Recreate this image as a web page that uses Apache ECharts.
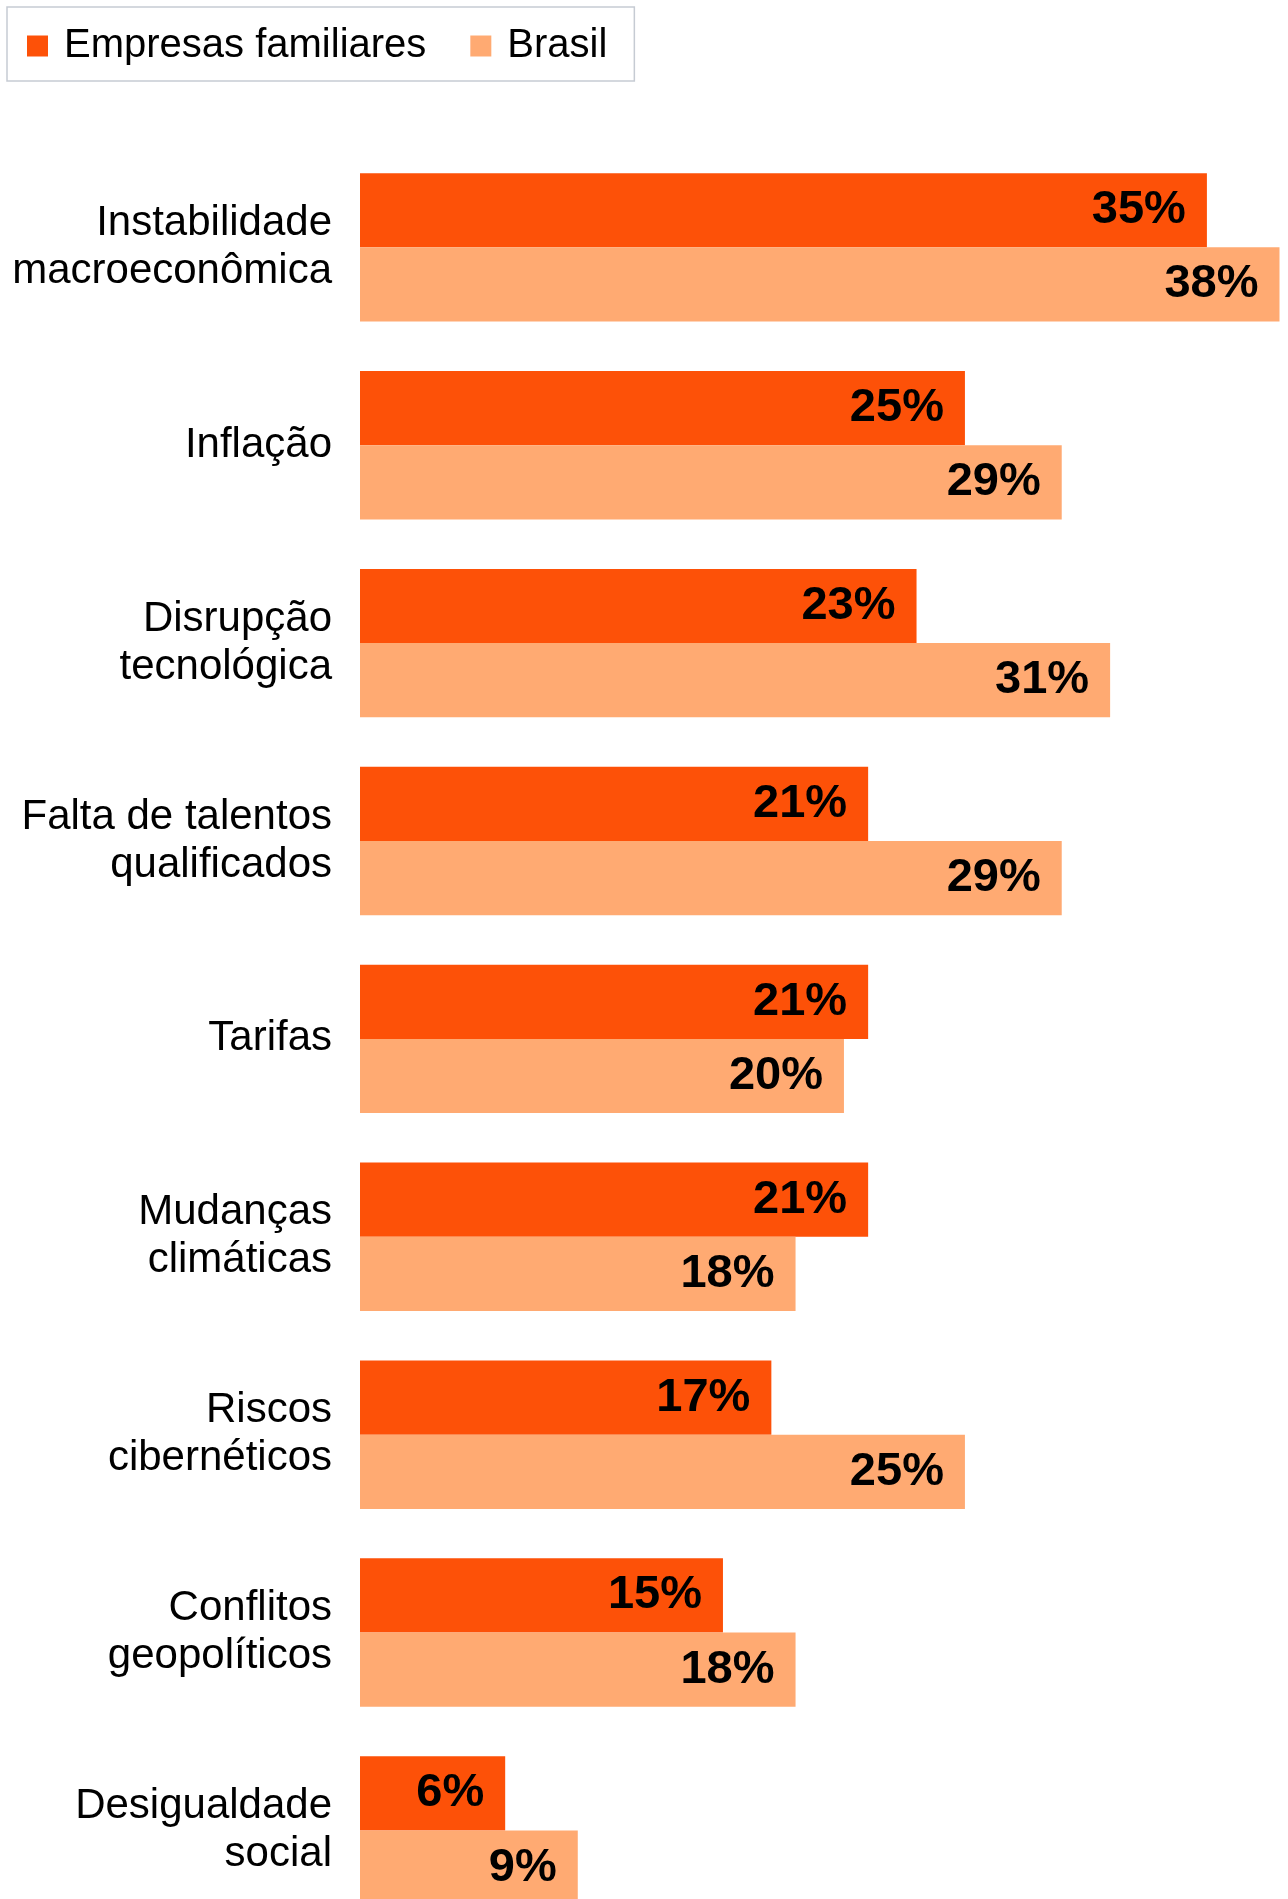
<!DOCTYPE html>
<html>
<head>
<meta charset="utf-8">
<script src="https://cdn.jsdelivr.net/npm/echarts@6/dist/echarts.min.js"></script>
<style>
  html, body { margin: 0; padding: 0; background: #ffffff; }
  #chart { width: 1288px; height: 1899px; }
</style>
</head>
<body>
<div id="chart"></div>
<script>
// Risk categories, top to bottom
const categories = [
  'Instabilidade\nmacroeconômica',
  'Inflação',
  'Disrupção\ntecnológica',
  'Falta de talentos\nqualificados',
  'Tarifas',
  'Mudanças\nclimáticas',
  'Riscos\ncibernéticos',
  'Conflitos\ngeopolíticos',
  'Desigualdade\nsocial'
];

// Share of respondents (%)
const empresasFamiliares = [35, 25, 23, 21, 21, 21, 17, 15, 6];
const brasil = [38, 29, 31, 29, 20, 18, 25, 18, 9];

const seriesNames = ['Empresas familiares', 'Brasil'];
const FONT = '"Liberation Sans", Arial, Helvetica, sans-serif';

const valueLabel = {
  show: true,
  position: 'insideRight',
  distance: 21,
  formatter: '{c}%',
  color: '#000000',
  fontFamily: FONT,
  fontWeight: 'bold',
  fontSize: 47
};

const chart = echarts.init(document.getElementById('chart'), null, { renderer: 'canvas' });

chart.setOption({
  animation: false,
  backgroundColor: '#ffffff',
  legend: {
    data: seriesNames,
    left: 7,
    top: 7,
    orient: 'horizontal',
    icon: 'rect',
    itemWidth: 21,
    itemHeight: 21,
    itemGap: 44,
    padding: [19, 27, 15, 20],
    borderColor: '#c6cbd3',
    borderWidth: 1.5,
    selectedMode: false,
    textStyle: {
      fontFamily: FONT,
      fontSize: 40,
      color: '#000000',
      padding: [20, 0, 0, 11]
    }
  },
  grid: {
    left: 360,
    right: 8.5,
    top: 148.4,
    height: 1781,
    containLabel: false,
    outerBoundsMode: 'none'
  },
  xAxis: {
    type: 'value',
    min: 0,
    max: 38,
    show: false,
    splitLine: { show: false }
  },
  yAxis: {
    type: 'category',
    data: categories,
    inverse: true,
    axisLine: { show: false },
    axisTick: { show: false },
    axisLabel: {
      margin: 28,
      align: 'right',
      color: '#000000',
      fontFamily: FONT,
      fontSize: 42,
      lineHeight: 48,
      padding: [0, 0, 10, 0]
    }
  },
  series: [
    {
      name: seriesNames[0],
      type: 'bar',
      data: empresasFamiliares,
      itemStyle: { color: '#FD5108' },
      barGap: '0%',
      barCategoryGap: '25%',
      label: valueLabel
    },
    {
      name: seriesNames[1],
      type: 'bar',
      data: brasil,
      itemStyle: { color: '#FFAA72' },
      barGap: '0%',
      barCategoryGap: '25%',
      label: valueLabel
    }
  ]
});
</script>
</body>
</html>
